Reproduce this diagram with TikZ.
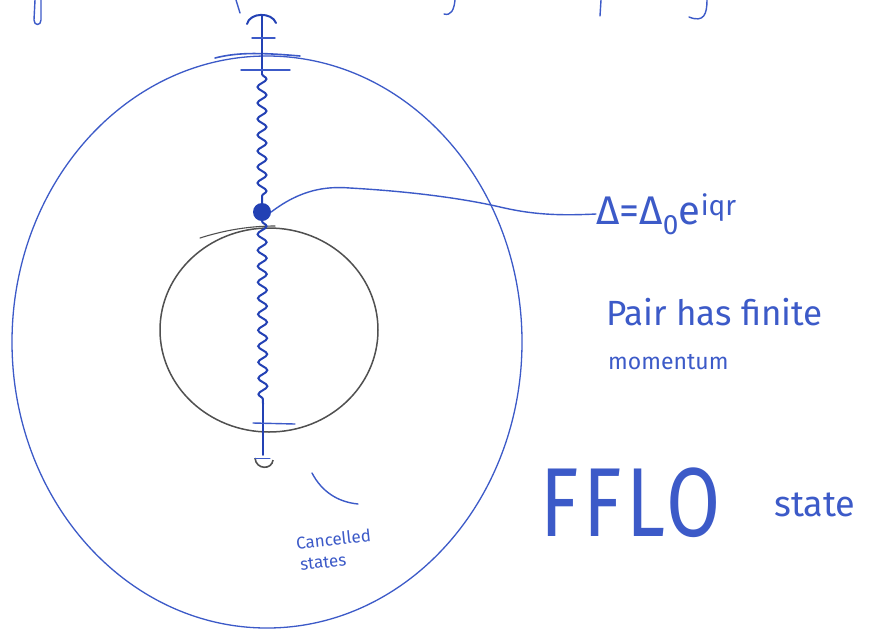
\documentclass[tikz,border=0pt]{standalone}
\usepackage{fontspec}
\setmainfont{Fira Sans}
\usetikzlibrary{decorations.pathmorphing}
\definecolor{pen}{RGB}{60,90,200}
\definecolor{pendark}{RGB}{35,65,180}
\definecolor{pencil}{RGB}{80,80,80}
\tikzset{
  ink/.style={draw=pen, line width=1.4pt, line cap=round, line join=round},
  thickink/.style={draw=pendark, line width=2pt, line cap=round},
  graypen/.style={draw=pencil, line width=1.5pt, line cap=round},
  wavy/.style={thickink, decorate, decoration={snake, amplitude=4.5pt, segment length=16pt}},
  hand/.style={text=pen, inner sep=0pt, anchor=west}
}
\begin{document}
\begin{tikzpicture}[x=1pt,y=-1pt]
\useasboundingbox (0,0) rectangle (883,630);
\fill[white] (0,0) rectangle (883,630);

% cut-off heading strokes at the top
\draw[ink] (35,0) -- (34,20) .. controls (34,26) and (41,26) .. (41,20) -- (41,0);
\draw[ink] (236,0) -- (240,13);
\draw[ink] (455,0) .. controls (454,10) and (451,16) .. (444,14);
\draw[ink] (601,0) -- (600,16);
\draw[ink] (707,0) .. controls (707,14) and (704,23) .. (689,17);

% large Fermi surface (blue)
\draw[ink, line width=1.3pt] (267,342) ellipse [x radius=255, y radius=286];
\draw[ink, line width=1.6pt] (215,58) .. controls (235,53) and (255,52) .. (300,56);

% small Fermi surface (gray)
\draw[graypen] (269,330) ellipse [x radius=109, y radius=102];
\draw[graypen, line width=1.1pt] (200,238) .. controls (225,230) and (250,226) .. (275,226);

% pairing line
\coordinate (wtop) at (262,15);
\coordinate (wstart) at (262,74);
\node[circle, fill=pendark, minimum size=18pt, inner sep=0pt] (dot) at (262,212) {};
\coordinate (wend) at (263,404);
\coordinate (wbot) at (263,455);
\draw[thickink] (wtop) -- (wstart);
\draw[thickink] (247,24) .. controls (250,12) and (272,12) .. (276,23);
\draw[ink] (252,38) -- (275,38);
\draw[ink] (241,70) -- (290,70);
\draw[wavy] (wstart) -- (dot.north);
\draw[wavy] (dot.south) -- (wend);
\draw[thickink, line width=1.6pt] (wend) -- (wbot);
\draw[ink] (253,423) -- (295,424);
\draw[draw=pencil, line width=1.6pt] (255,458) .. controls (256,470) and (272,470) .. (273,460);
\draw[ink, line width=1pt] (255,458) -- (270,458);

% label for the order parameter
\node[hand, font=\fontsize{40}{44}\selectfont] (delta) at (596,214) {Δ=Δ\textsubscript{0}e\textsuperscript{iqr}};
\draw[ink] (dot.east) .. controls (300,190) and (325,186) .. (350,188)
  .. controls (420,192) and (470,200) .. (500,207)
  .. controls (530,214) and (555,216) .. (delta.west);

\node[hand, font=\fontsize{35}{40}\selectfont] (pair) at (606,312) {Pair has finite};
\node[hand, font=\fontsize{23}{26}\selectfont] (mom) at (608,362) {momentum};

\node[hand, font=\fontsize{98}{100}\selectfont\addfontfeature{LetterSpace=6}, xscale=0.8] (fflo) at (540,503) {FFLO};
\node[hand, font=\fontsize{36}{40}\selectfont] (state) at (774,505) {state};

% cancelled states label
\coordinate (arcA) at (312,473);
\coordinate (arcB) at (358,504);
\draw[ink] (arcA) .. controls (322,492) and (338,502) .. (arcB);
\node[hand, font=\fontsize{17}{18}\selectfont, rotate=6] (canc) at (296,543) {Cancelled};
\node[hand, font=\fontsize{17}{18}\selectfont, rotate=6] (cstates) at (300,565) {states};
\end{tikzpicture}
\end{document}
